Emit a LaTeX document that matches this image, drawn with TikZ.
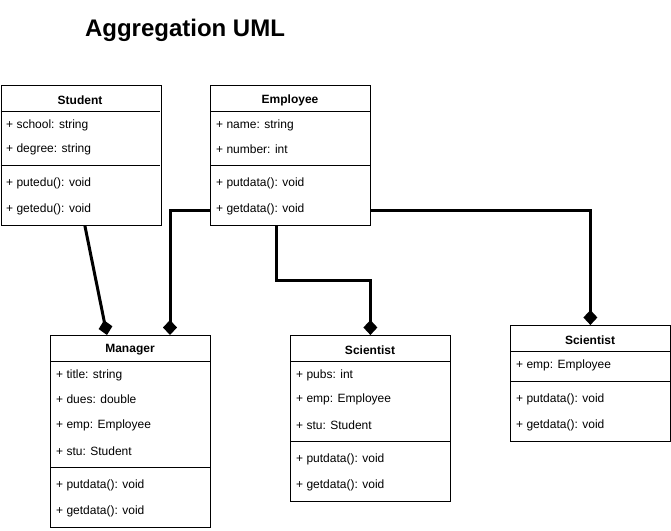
\documentclass[tikz,border=0pt]{standalone}
\usepackage{fontspec}
\setmainfont{Liberation Sans}
\usetikzlibrary{arrows.meta,positioning}
\tikzset{box/.style={draw,line width=0.8pt,anchor=north west,minimum width=160pt,inner sep=0pt}}
\tikzset{head/.style={font=\fontsize{12}{14}\selectfont\bfseries,inner sep=0pt}}
\tikzset{attr/.style={anchor=west,font=\fontsize{12}{14}\selectfont,inner sep=0pt}}
\tikzset{link/.style={line width=3pt,-{Diamond[length=15pt,width=14pt]}}}

\begin{document}
\begin{tikzpicture}[x=1pt,y=-1pt]
      \useasboundingbox (0,0) rectangle (671,530);
      \node[font=\fontsize{24}{28}\selectfont\bfseries] (title) at (185,30) {Aggregation UML};

      % Student
      \node[box,minimum height=140pt] (stu) at (0.5,85) {};
      \draw[line width=0.8pt] (0.5,111) -- (160,111);
      \draw[line width=0.8pt] (0.5,165) -- (160,165);
      \node[head] (stuh) at (80,100) {Student};
      \node[attr] (stu1) at (6,125.5) {+ school: string};
      \node[attr] (stu2) at (6,149.5) {+ degree: string};
      \node[attr] (stu3) at (6,183.5) {+ putedu(): void};
      \node[attr] (stu4) at (6,209.5) {+ getedu(): void};

      % Employee
      \node[box,minimum height=140pt] (emp) at (210,85) {};
      \draw[line width=0.8pt] (210,111) -- (370,111);
      \draw[line width=0.8pt] (210,165) -- (370,165);
      \node[head] (emph) at (290,100) {Employee};
      \node[attr] (emp1) at (216,125.5) {+ name: string};
      \node[attr] (emp2) at (216,149.5) {+ number: int};
      \node[attr] (emp3) at (216,183.5) {+ putdata(): void};
      \node[attr] (emp4) at (216,209.5) {+ getdata(): void};

      % Manager
      \node[box,minimum height=192pt] (mgr) at (50,335) {};
      \draw[line width=0.8pt] (50,361) -- (210,361);
      \draw[line width=0.8pt] (50,467) -- (210,467);
      \node[head] (mgrh) at (130,350) {Manager};
      \node[attr] (mgr1) at (56,375.5) {+ title: string};
      \node[attr] (mgr2) at (56,399.5) {+ dues: double};
      \node[attr] (mgr3) at (56,425.5) {+ emp: Employee};
      \node[attr] (mgr4) at (56,451.5) {+ stu: Student};
      \node[attr] (mgr5) at (56,485.5) {+ putdata(): void};
      \node[attr] (mgr6) at (56,511.5) {+ getdata(): void};

      % Scientist (with student)
      \node[box,minimum height=166pt] (sci) at (290,335) {};
      \draw[line width=0.8pt] (290,361) -- (450,361);
      \draw[line width=0.8pt] (290,441) -- (450,441);
      \node[head] (scih) at (370,350) {Scientist};
      \node[attr] (sci1) at (296,375.5) {+ pubs: int};
      \node[attr] (sci2) at (296,399.5) {+ emp: Employee};
      \node[attr] (sci3) at (296,425.5) {+ stu: Student};
      \node[attr] (sci4) at (296,459.5) {+ putdata(): void};
      \node[attr] (sci5) at (296,485.5) {+ getdata(): void};

      % Scientist (employee only)
      \node[box,minimum height=116pt] (scb) at (510,325) {};
      \draw[line width=0.8pt] (510,351) -- (670,351);
      \draw[line width=0.8pt] (510,381) -- (670,381);
      \node[head] (scbh) at (590,340) {Scientist};
      \node[attr] (scb1) at (516,365.5) {+ emp: Employee};
      \node[attr] (scb2) at (516,399.5) {+ putdata(): void};
      \node[attr] (scb3) at (516,425.5) {+ getdata(): void};

      % aggregations
      \draw[link] ([xshift=4pt]stu.south) -- ([xshift=57pt]mgr.north west);
      \draw[link] ([yshift=-125pt]emp.north west) -| ([xshift=120pt]mgr.north west);
      \draw[link] ([xshift=66pt]emp.south west) -- ++(0,55) -| (sci.north);
      \draw[link] ([yshift=-125pt]emp.north east) -| (scb.north);
    \end{tikzpicture}
\end{document}
